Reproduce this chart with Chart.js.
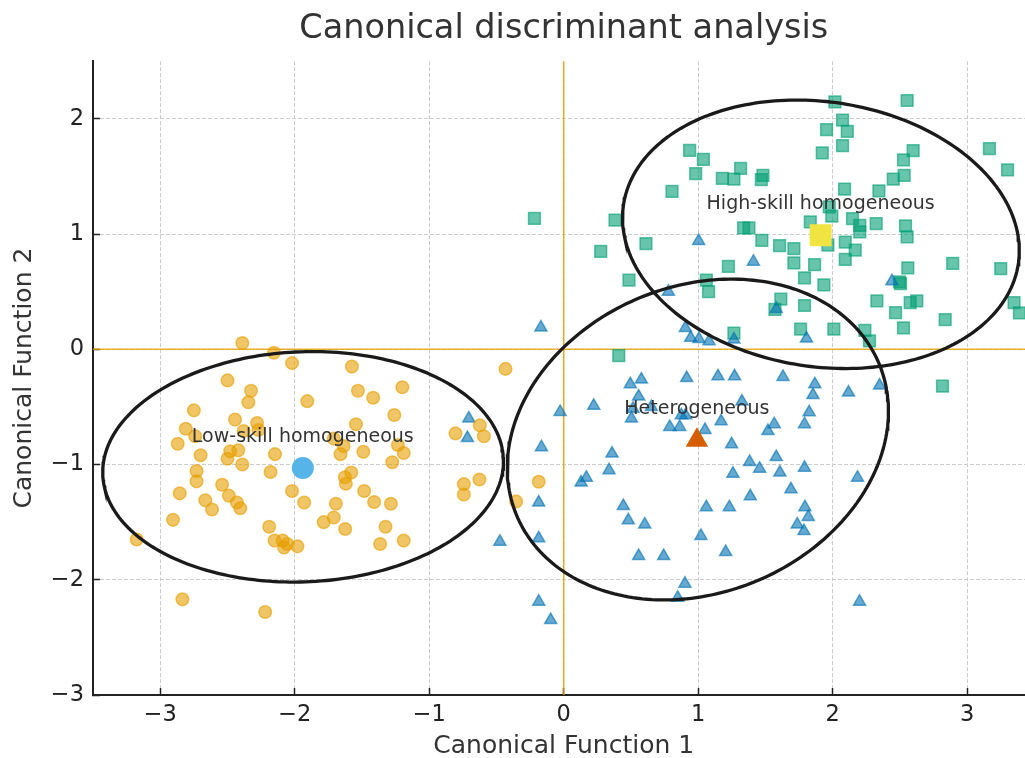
<!DOCTYPE html>
<html>
<head>
<meta charset="utf-8">
<title>Canonical discriminant analysis</title>
<script src="https://cdn.jsdelivr.net/npm/chart.js@4.4.1/dist/chart.umd.min.js"></script>
<style>
  html, body { margin: 0; padding: 0; background: #ffffff; overflow: hidden; }
  #wrap { width: 1050px; height: 758px; }
</style>
</head>
<body>
<div id="wrap"><canvas id="cdaChart" width="1050" height="758"></canvas></div>
<script>
// Group scores on the two canonical functions: [CF1, CF2]
const lowSkillPts = [
  [-2.39, 0.055], [-2.155, -0.03], [-2.02, -0.12], [-2.50, -0.27], [-2.325, -0.36],
  [-2.345, -0.46], [-1.907, -0.45], [-2.75, -0.53], [-2.444, -0.61], [-2.28, -0.64],
  [-2.81, -0.69], [-2.38, -0.71], [-2.27, -0.70], [-2.74, -0.755], [-2.87, -0.82],
  [-2.48, -0.885], [-2.42, -0.877], [-2.70, -0.92], [-2.50, -0.95], [-2.147, -0.91],
  [-2.39, -1.0], [-2.18, -1.065], [-2.73, -1.056], [-2.73, -1.146], [-2.54, -1.175],
  [-2.855, -1.25], [-2.49, -1.27], [-2.665, -1.31], [-2.43, -1.33], [-2.405, -1.38],
  [-2.615, -1.39], [-2.02, -1.23], [-1.93, -1.33], [-1.785, -1.50], [-2.905, -1.48],
  [-2.19, -1.54], [-2.15, -1.66], [-2.09, -1.66], [-2.056, -1.69], [-2.08, -1.72],
  [-1.98, -1.71], [-3.175, -1.65], [-2.835, -2.17], [-2.22, -2.28],
  [-1.575, -0.15], [-0.433, -0.17], [-1.53, -0.36], [-1.417, -0.42], [-1.20, -0.33],
  [-1.26, -0.57], [-1.545, -0.65], [-1.71, -0.775], [-1.637, -0.84], [-1.66, -0.91],
  [-1.49, -0.89], [-1.233, -0.83], [-1.19, -0.90], [-1.275, -0.98], [-0.805, -0.73],
  [-0.624, -0.66], [-0.594, -0.755], [-1.58, -1.07], [-1.627, -1.11], [-1.62, -1.166],
  [-1.484, -1.23], [-1.41, -1.325], [-1.285, -1.34], [-1.694, -1.34], [-1.71, -1.46],
  [-1.625, -1.56], [-1.325, -1.54], [-1.365, -1.69], [-1.19, -1.66], [-0.743, -1.17],
  [-0.743, -1.26], [-0.627, -1.13], [-0.354, -1.32], [-0.186, -1.15]
];

const heteroPts = [
  [-0.706, -0.60], [-0.716, -0.77], [-0.166, -0.85], [-0.186, -1.33], [-0.475, -1.67],
  [-0.186, -1.64], [-0.186, -2.19], [-0.17, 0.19], [1.003, 0.94], [1.41, 0.76],
  [0.778, 0.50], [0.904, 0.185], [0.944, 0.10], [1.005, 0.09], [1.08, 0.07],
  [1.265, 0.085], [1.58, 0.35], [2.44, 0.59], [1.805, 0.093], [0.495, -0.304],
  [0.577, -0.263], [0.914, -0.25], [0.557, -0.41], [0.223, -0.49], [-0.027, -0.544],
  [0.515, -0.515], [0.503, -0.60], [0.651, -0.50], [0.788, -0.674], [0.862, -0.674],
  [0.874, -0.573], [0.906, -0.573], [1.05, -0.70], [0.359, -0.905], [0.337, -1.05],
  [0.168, -1.114], [0.129, -1.157], [0.443, -1.36], [0.48, -1.484], [0.602, -1.52],
  [1.06, -1.37], [1.02, -1.62], [0.557, -1.794], [0.743, -1.794], [0.901, -2.034],
  [0.847, -2.155], [-0.097, -2.35], [1.147, -0.234], [1.27, -0.234], [1.63, -0.24],
  [1.867, -0.304], [1.853, -0.397], [2.117, -0.376], [2.348, -0.315], [1.325, -0.454],
  [1.825, -0.547], [1.79, -0.65], [1.17, -0.625], [1.565, -0.65], [1.518, -0.71],
  [1.248, -0.825], [1.58, -0.935], [1.382, -0.978], [1.456, -1.036], [1.607, -1.07],
  [1.79, -1.027], [1.258, -1.08], [2.184, -1.114], [1.689, -1.215], [1.387, -1.276],
  [1.231, -1.37], [1.793, -1.37], [1.818, -1.455], [1.736, -1.52], [1.786, -1.577],
  [1.204, -1.76], [2.199, -2.19]
];

const highSkillPts = [
  [-0.218, 1.137], [0.936, 1.727], [1.038, 1.649], [0.981, 1.525], [1.315, 1.57],
  [1.179, 1.484], [1.265, 1.476], [1.481, 1.51], [1.469, 1.473], [0.805, 1.37],
  [0.381, 1.12], [1.337, 1.053], [1.377, 1.053], [1.473, 0.946], [1.605, 0.90],
  [0.611, 0.917], [0.275, 0.85], [1.224, 0.72], [0.485, 0.60], [1.06, 0.60],
  [1.077, 0.50], [1.614, 0.435], [1.57, 0.347], [1.265, 0.14], [0.409, -0.055],
  [2.016, 2.147], [2.553, 2.159], [2.073, 1.988], [1.954, 1.907], [2.108, 1.892],
  [2.073, 1.768], [1.922, 1.704], [2.598, 1.725], [2.526, 1.643], [3.165, 1.742],
  [3.30, 1.556], [2.531, 1.51], [2.45, 1.476], [2.088, 1.39], [2.343, 1.375],
  [1.974, 1.235], [1.993, 1.155], [1.833, 1.105], [2.147, 1.134], [2.201, 1.076],
  [2.201, 1.018], [2.323, 1.09], [2.541, 1.07], [2.553, 0.975], [1.964, 0.903],
  [2.093, 0.93], [2.167, 0.86], [1.711, 0.874], [2.093, 0.78], [1.711, 0.75],
  [1.865, 0.735], [2.558, 0.706], [2.892, 0.746], [3.249, 0.70], [1.79, 0.62],
  [1.934, 0.56], [2.496, 0.585], [2.504, 0.57], [1.79, 0.38], [2.328, 0.42],
  [2.576, 0.405], [2.625, 0.42], [3.348, 0.405], [3.388, 0.315], [2.467, 0.318],
  [2.836, 0.258], [1.761, 0.176], [2.008, 0.176], [2.239, 0.165], [2.273, 0.072],
  [2.526, 0.185], [2.816, -0.32]
];

// Group centroids (low-skill, heterogeneous, high-skill)
const groupNames = ["Low-skill homogeneous", "Heterogeneous", "High-skill homogeneous"];
const centroidX = [-1.94, 0.99, 1.91];
const centroidY = [-1.03, -0.79, 0.99];
const labelOffset = 0.27;

// Dispersion ellipses: centre, semi-axes, rotation (degrees)
const ellipseCX = [-1.938, 0.997, 1.912];
const ellipseCY = [-1.02, -0.783, 0.998];
const ellipseA = [1.491, 1.524, 1.492];
const ellipseB = [0.998, 1.274, 1.143];
const ellipseAngle = [3.3, 42.1, -13.6];

const xTicks = [-3, -2, -1, 0, 1, 2, 3];
const yTicks = [-3, -2, -1, 0, 1, 2];

const FONT = "'DejaVu Sans', 'Liberation Sans', sans-serif";

function toXY(pts) {
  return pts.map(p => ({ x: p[0], y: p[1] }));
}

function ellipsePoints(i) {
  const th = ellipseAngle[i] * Math.PI / 180;
  const out = [];
  for (let k = 0; k <= 240; k++) {
    const t = (k / 240) * 2 * Math.PI;
    const ex = ellipseA[i] * Math.cos(t);
    const ey = ellipseB[i] * Math.sin(t);
    out.push({
      x: ellipseCX[i] + ex * Math.cos(th) - ey * Math.sin(th),
      y: ellipseCY[i] + ex * Math.sin(th) + ey * Math.cos(th),
    });
  }
  return out;
}

function minusSign(v) {
  return String(v).replace("-", "\u2212");
}

const ellipseSets = [0, 1, 2].map(i => ({
  label: "ellipse " + i,
  data: ellipsePoints(i),
  showLine: true,
  borderColor: "#1a1a1a",
  borderWidth: 3.3,
  pointRadius: 0,
  fill: false,
  tension: 0,
  order: 1,
}));

// Text labels above each centroid
const groupLabelPlugin = {
  id: "groupLabels",
  afterDatasetsDraw(chart) {
    const { ctx, scales: { x, y } } = chart;
    ctx.save();
    ctx.font = "19px " + FONT;
    ctx.fillStyle = "#333333";
    ctx.textAlign = "center";
    ctx.textBaseline = "middle";
    groupNames.forEach((name, i) => {
      ctx.fillText(name, x.getPixelForValue(centroidX[i]), y.getPixelForValue(centroidY[i] + labelOffset));
    });
    ctx.restore();
  },
};

const ctx = document.getElementById("cdaChart");
const cdaChart = new Chart(ctx, {
  type: "scatter",
  data: {
    datasets: [
      {
        label: "Low-skill centroid",
        data: [{ x: centroidX[0], y: centroidY[0] }],
        pointStyle: "circle",
        pointRadius: 11,
        backgroundColor: "#56B4E9",
        borderColor: "#56B4E9",
        borderWidth: 0,
        order: 0,
      },
      {
        label: "Heterogeneous centroid",
        data: [{ x: centroidX[1], y: centroidY[1] }],
        pointStyle: "triangle",
        pointRadius: 13,
        backgroundColor: "#D55E00",
        borderColor: "#D55E00",
        borderWidth: 0,
        order: 0,
      },
      {
        label: "High-skill centroid",
        data: [{ x: centroidX[2], y: centroidY[2] }],
        pointStyle: "rect",
        pointRadius: 15.5,
        backgroundColor: "#F0E442",
        borderColor: "#F0E442",
        borderWidth: 0,
        order: 0,
      },
      ...ellipseSets,
      {
        label: "Low-skill homogeneous",
        data: toXY(lowSkillPts),
        pointStyle: "circle",
        pointRadius: 6.3,
        backgroundColor: "rgba(230,159,0,0.6)",
        borderColor: "rgba(230,159,0,0.6)",
        borderWidth: 1.5,
        order: 2,
      },
      {
        label: "Heterogeneous",
        data: toXY(heteroPts),
        pointStyle: "triangle",
        pointRadius: 7,
        backgroundColor: "rgba(0,114,178,0.6)",
        borderColor: "rgba(0,114,178,0.6)",
        borderWidth: 1.5,
        order: 2,
      },
      {
        label: "High-skill homogeneous",
        data: toXY(highSkillPts),
        pointStyle: "rect",
        pointRadius: 8.3,
        backgroundColor: "rgba(0,158,115,0.6)",
        borderColor: "rgba(0,158,115,0.6)",
        borderWidth: 1.5,
        order: 2,
      },
      {
        label: "x = 0",
        data: [{ x: 0, y: -3 }, { x: 0, y: 2.5 }],
        showLine: true,
        borderColor: "rgba(230,159,0,0.8)",
        borderWidth: 1.6,
        pointRadius: 0,
        order: 3,
      },
      {
        label: "y = 0",
        data: [{ x: -3.5, y: 0 }, { x: 3.5, y: 0 }],
        showLine: true,
        borderColor: "rgba(230,159,0,0.8)",
        borderWidth: 1.6,
        pointRadius: 0,
        order: 3,
      },
    ],
  },
  options: {
    responsive: false,
    animation: false,
    events: [],
    layout: { padding: { left: 0, right: 11, top: 0, bottom: 0 } },
    plugins: {
      legend: { display: false },
      tooltip: { enabled: false },
      title: {
        display: true,
        text: "Canonical discriminant analysis",
        color: "#333333",
        fullSize: false,
        font: { family: FONT, size: 33.5, weight: "normal", lineHeight: 1.2 },
        padding: { top: 9, bottom: 12 },
      },
    },
    scales: {
      x: {
        type: "linear",
        min: -3.5,
        max: 3.5,
        afterBuildTicks: s => { s.ticks = xTicks.map(v => ({ value: v })); },
        afterFit: s => { s.height = 63; s.paddingLeft = 0; s.paddingRight = 0; },
        grid: { color: "#cccccc", lineWidth: 1, tickLength: -7, tickColor: "#222222", tickWidth: 1.5 },
        border: { color: "#222222", width: 2, dash: [4, 2] },
        ticks: {
          color: "#222222",
          padding: 13.5,
          font: { family: FONT, size: 22.5 },
          callback: v => minusSign(v),
        },
        title: {
          display: true,
          text: "Canonical Function 1",
          color: "#333333",
          font: { family: FONT, size: 25, lineHeight: 0.9 },
          padding: { top: 0, bottom: 0 },
        },
      },
      y: {
        type: "linear",
        min: -3,
        max: 2.5,
        afterBuildTicks: s => { s.ticks = yTicks.map(v => ({ value: v })); },
        afterFit: s => { s.width = 93; },
        grid: { color: "#cccccc", lineWidth: 1, tickLength: -7, tickColor: "#222222", tickWidth: 1.5 },
        border: { color: "#222222", width: 2, dash: [4, 2] },
        ticks: {
          color: "#222222",
          padding: 16,
          font: { family: FONT, size: 22.5 },
          callback: v => minusSign(v),
        },
        title: {
          display: true,
          text: "Canonical Function 2",
          color: "#333333",
          font: { family: FONT, size: 25, lineHeight: 0.9 },
          padding: { top: 13, bottom: 0 },
        },
      },
    },
  },
  plugins: [groupLabelPlugin],
});
</script>
</body>
</html>
